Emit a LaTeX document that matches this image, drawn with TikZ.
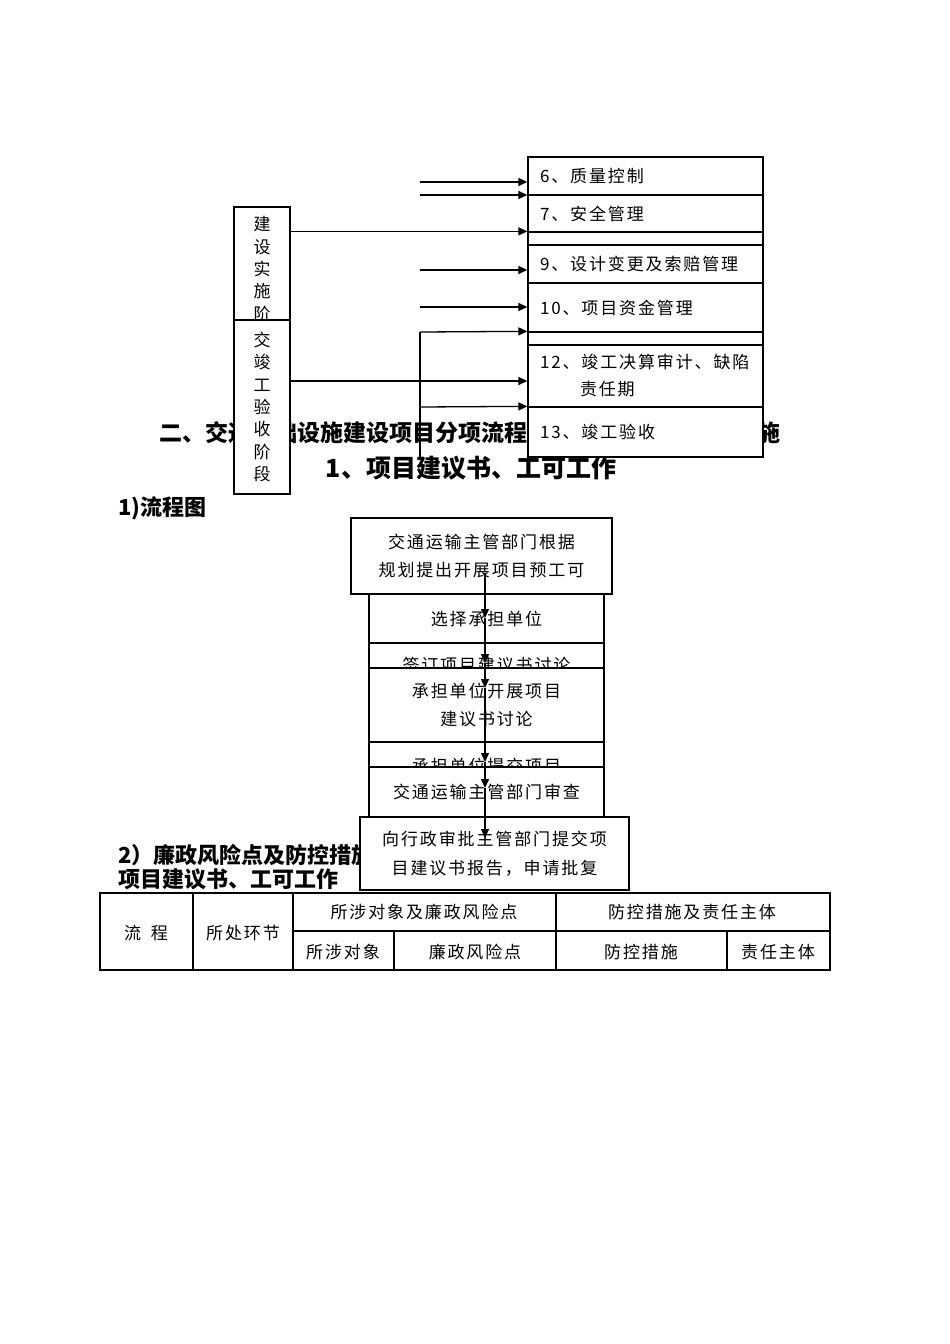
\documentclass[tikz,border=0pt]{standalone}
\usepackage{fontspec}
\usetikzlibrary{arrows.meta}
\newfontfamily\cjk{Noto Sans CJK SC}[LetterSpace=11]
\newfontfamily\cjkv{Noto Sans CJK SC}
\newfontfamily\hei{Noto Sans CJK SC}
\tikzset{
  ln/.style={line width=1.3pt, draw=black},
  rbox/.style={ln, fill=white, minimum width=235pt, text width=211pt, inner xsep=12pt, inner ysep=0pt, align=left, font=\cjk\fontsize{17}{27}\selectfont},
  lbox/.style={ln, fill=white, minimum width=56pt, inner sep=0pt, align=center, font=\cjkv\fontsize{17}{22.3}\selectfont},
  mbox/.style={ln, fill=white, inner sep=0pt, align=center, font=\cjk\fontsize{17}{28.5}\selectfont},
  arr/.style={line width=1.3pt, -{Triangle[length=9pt,width=8pt]}},
  ttl/.style={inner sep=0pt, font=\hei\bfseries\fontsize{23}{24}\selectfont},
  sub/.style={inner sep=0pt, font=\hei\bfseries\fontsize{22}{24}\selectfont, anchor=west},
  cell/.style={inner sep=0pt, font=\cjk\fontsize{17}{20}\selectfont},
}
\begin{document}
\begin{tikzpicture}[x=1pt,y=-1pt]
\fill[white] (0,0) rectangle (950,1344);
\useasboundingbox (0,0) rectangle (950,1344);

% background titles
\node[ttl] (t1) at (469.5,433) {二、交通基础设施建设项目分项流程图及廉政风险点防控措施};
\node[ttl, font=\hei\bfseries\fontsize{25}{26}\selectfont] (t2) at (471,468) {1、项目建议书、工可工作};
\node[sub] (t3) at (118,508) {1)流程图};
\node[sub] (t4) at (118,855) {2）廉政风险点及防控措施};
\node[sub] (t5) at (118,879) {项目建议书、工可工作};

% left stage boxes
\node[lbox, minimum height=124pt] (b1) at (262,269) {建\\设\\实\\施\\阶};
\node[lbox, minimum height=174pt] (b2) at (262,407) {交\\竣\\工\\验\\收\\阶\\段};

% right column boxes
\node[rbox, minimum height=38pt] (r6) at (645.5,176) {6、质量控制};
\node[rbox, minimum height=37pt] (r7) at (645.5,213.5) {7、安全管理};
\node[rbox, minimum height=13pt] (r8) at (645.5,238.5) {};
\node[rbox, minimum height=38pt] (r9) at (645.5,264) {9、设计变更及索赔管理};
\node[rbox, minimum height=49pt] (r10) at (645.5,307.5) {10、项目资金管理};
\node[rbox, minimum height=13pt] (r11) at (645.5,338.5) {};
\node[rbox, minimum height=62pt] (r12) at (645.5,376) {12、竣工决算审计、缺陷\\\hspace*{40pt}责任期};
\node[rbox, minimum height=50pt] (r13) at (645.5,432) {13、竣工验收};

% arrows into right column
\coordinate (a1) at (420,182);
\coordinate (a2) at (420,195);
\coordinate (a3) at (420,270);
\coordinate (a4) at (420,307);
\coordinate (a5) at (420,381);
\coordinate (v1) at (420,332);
\coordinate (v2) at (420,460);
\coordinate (v3) at (420,407);
\draw[arr] (a1) -- (a1 -| r6.west);
\draw[arr] (a2) -- (a2 -| r6.west);
\draw[arr] (b1.east |- r8.north west) -- (r8.north west);
\draw[arr] (a3) -- (a3 -| r9.west);
\draw[arr] (a4) -- (a4 -| r10.west);
\draw[ln] (v2) -- (v1);
\draw[arr] (v1) -- (r11.north west);
\draw[arr] (b2.east |- a5) -- (r12.west |- a5);
\draw[arr] (v3) -- (r13.north west);

% middle flowchart
\node[mbox, minimum width=261pt, minimum height=76pt] (fA) at (481.5,556) {交通运输主管部门根据\\规划提出开展项目预工可};
\node[mbox, minimum width=235pt, minimum height=49pt] (fB) at (486.5,618.5) {选择承担单位};
\node[mbox, minimum width=235pt, minimum height=44pt] (fC) at (486.5,665) {签订项目建议书讨论};
\node[mbox, minimum width=235pt, minimum height=74pt] (fD) at (486.5,705) {承担单位开展项目\\建议书讨论};
\node[mbox, minimum width=235pt, minimum height=48pt] (fE) at (486.5,766) {承担单位提交项目};
\node[mbox, minimum width=235pt, minimum height=50pt] (fF) at (486.5,792) {交通运输主管部门审查};
\node[mbox, minimum width=269pt, minimum height=73pt] (fG) at (494.5,853.5) {向行政审批主管部门提交项\\目建议书报告，申请批复};

\coordinate (m0) at (485,573);
\coordinate (m1) at (485,618);
\coordinate (m2) at (485,663);
\coordinate (m3) at (485,688);
\coordinate (m4) at (485,762);
\coordinate (m5) at (485,788);
\coordinate (m6) at (485,838);
\draw[arr] (m0) -- (m1);
\draw[arr] (m1) -- (m2);
\draw[arr] (m2) -- (m3);
\draw[arr] (m3) -- (m4);
\draw[arr] (m4) -- (m5);
\draw[arr] (m5) -- (m6);

% table
\draw[line width=1.2pt] (193,893) -- (193,970);
\draw[line width=1.2pt] (293,893) -- (293,970);
\draw[line width=1.2pt] (556,893) -- (556,970);
\draw[line width=1.2pt] (293,931) -- (830,931);
\draw[line width=1.2pt] (394,931) -- (394,970);
\draw[line width=1.2pt] (727,931) -- (727,970);
\draw[line width=2.2pt] (100,893) rectangle (830,970);
\node[cell] (h1) at (146,933) {流\hspace{10pt}程};
\node[cell] (h2) at (243,933) {所处环节};
\node[cell] (h3) at (424,912) {所涉对象及廉政风险点};
\node[cell] (h4) at (692,912) {防控措施及责任主体};
\node[cell] (h5) at (343,952) {所涉对象};
\node[cell] (h6) at (475,952) {廉政风险点};
\node[cell] (h7) at (641,952) {防控措施};
\node[cell] (h8) at (778,952) {责任主体};
\end{tikzpicture}
\end{document}
